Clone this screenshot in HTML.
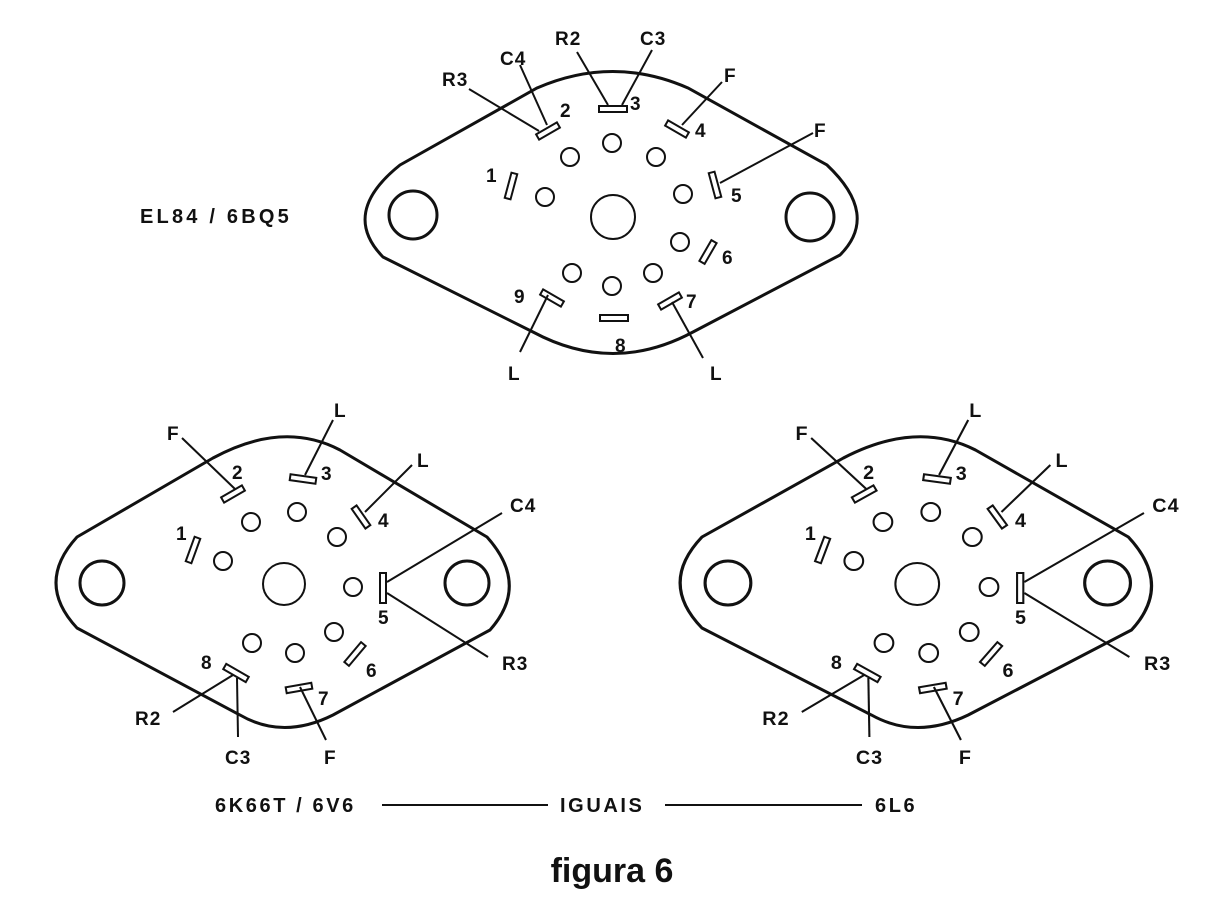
<!DOCTYPE html>
<html><head><style>
html,body{margin:0;padding:0;background:#fff;}
svg{display:block;}
text{font-family:"Liberation Sans",sans-serif;font-weight:bold;fill:#111;}
</style></head><body>
<svg width="1222" height="900" viewBox="0 0 1222 900" xmlns="http://www.w3.org/2000/svg">
<defs>
<g id="sock" fill="none" stroke="#111">
  <path d="M77,537 L213,458 Q283,420 340,450 L487,537 Q530,585 490,630 L333,715 Q283,740 240,715 L77,628 Q35,583 77,537 Z" stroke-width="3"/>
  <circle cx="102" cy="583" r="22" stroke-width="3"/>
  <circle cx="467" cy="583" r="22" stroke-width="3"/>
  <circle cx="284" cy="584" r="21" stroke-width="2"/>
  <g stroke-width="2">
  <circle cx="251" cy="522" r="9"/><circle cx="297" cy="512" r="9"/><circle cx="337" cy="537" r="9"/>
  <circle cx="223" cy="561" r="9"/><circle cx="353" cy="587" r="9"/><circle cx="334" cy="632" r="9"/>
  <circle cx="252" cy="643" r="9"/><circle cx="295" cy="653" r="9"/>
  <rect x="-12" y="-3" width="24" height="6" transform="translate(233,494) rotate(-30)"/>
  <rect x="-13" y="-3" width="26" height="6" transform="translate(303,479) rotate(8)"/>
  <rect x="-12" y="-3" width="24" height="6" transform="translate(361,517) rotate(55)"/>
  <rect x="-13" y="-3" width="26" height="6" transform="translate(193,550) rotate(-70)"/>
  <rect x="-15" y="-3" width="30" height="6" transform="translate(383,588) rotate(90)"/>
  <rect x="-13" y="-3" width="26" height="6" transform="translate(355,654) rotate(-50)"/>
  <rect x="-13" y="-3" width="26" height="6" transform="translate(236,673) rotate(30)"/>
  <rect x="-13" y="-3" width="26" height="6" transform="translate(299,688) rotate(-10)"/>
  <line x1="182" y1="438" x2="235" y2="489"/>
  <line x1="333" y1="420" x2="305" y2="475"/>
  <line x1="412" y1="465" x2="365" y2="512"/>
  <line x1="502" y1="513" x2="387" y2="582"/>
  <line x1="488" y1="657" x2="387" y2="593"/>
  <line x1="173" y1="712" x2="233" y2="675"/>
  <line x1="238" y1="737" x2="237" y2="678"/>
  <line x1="326" y1="740" x2="300" y2="687"/>
  </g>
</g>
<g id="lab" font-size="19">
  <text x="232" y="479">2</text><text x="321" y="480">3</text><text x="378" y="527">4</text>
  <text x="176" y="540">1</text><text x="378" y="624">5</text><text x="366" y="677">6</text>
  <text x="318" y="705">7</text><text x="201" y="669">8</text>
  <text x="167" y="440">F</text><text x="334" y="417">L</text><text x="417" y="467">L</text>
  <text x="510" y="512" letter-spacing="1">C4</text><text x="502" y="670" letter-spacing="1">R3</text><text x="135" y="725" letter-spacing="1">R2</text>
  <text x="225" y="764" letter-spacing="1">C3</text><text x="324" y="764">F</text>
</g>
</defs>

<!-- top socket -->
<g fill="none" stroke="#111">
  <path d="M400,165 L537,88 Q613,55 688,88 L827,165 Q880,215 840,255 L693,332 Q613,375 533,332 L383,257 Q340,213 400,165 Z" stroke-width="3"/>
  <circle cx="413" cy="215" r="24" stroke-width="3"/>
  <circle cx="810" cy="217" r="24" stroke-width="3"/>
  <circle cx="613" cy="217" r="22" stroke-width="2"/>
  <g stroke-width="2">
  <circle cx="612" cy="143" r="9"/><circle cx="570" cy="157" r="9"/><circle cx="656" cy="157" r="9"/>
  <circle cx="545" cy="197" r="9"/><circle cx="683" cy="194" r="9"/><circle cx="680" cy="242" r="9"/>
  <circle cx="572" cy="273" r="9"/><circle cx="653" cy="273" r="9"/><circle cx="612" cy="286" r="9"/>
  <rect x="-12" y="-3" width="24" height="6" transform="translate(548,131) rotate(-30)"/>
  <rect x="-14" y="-3" width="28" height="6" transform="translate(613,109)"/>
  <rect x="-12" y="-3" width="24" height="6" transform="translate(677,129) rotate(30)"/>
  <rect x="-13" y="-3" width="26" height="6" transform="translate(715,185) rotate(75)"/>
  <rect x="-13" y="-3" width="26" height="6" transform="translate(511,186) rotate(-75)"/>
  <rect x="-12" y="-3" width="24" height="6" transform="translate(708,252) rotate(-60)"/>
  <rect x="-12" y="-3" width="24" height="6" transform="translate(670,301) rotate(-30)"/>
  <rect x="-14" y="-3" width="28" height="6" transform="translate(614,318)"/>
  <rect x="-12" y="-3" width="24" height="6" transform="translate(552,298) rotate(30)"/>
  <line x1="469" y1="89" x2="539" y2="131"/>
  <line x1="520" y1="65" x2="547" y2="125"/>
  <line x1="577" y1="52" x2="608" y2="105"/>
  <line x1="652" y1="50" x2="622" y2="105"/>
  <line x1="722" y1="82" x2="682" y2="125"/>
  <line x1="813" y1="133" x2="720" y2="183"/>
  <line x1="520" y1="352" x2="548" y2="295"/>
  <line x1="703" y1="358" x2="672" y2="302"/>
  </g>
</g>
<g font-size="19">
  <text x="560" y="117">2</text><text x="630" y="110">3</text><text x="695" y="137">4</text>
  <text x="486" y="182">1</text><text x="731" y="202">5</text><text x="722" y="264">6</text>
  <text x="686" y="308">7</text><text x="615" y="352">8</text><text x="514" y="303">9</text>
  <text x="442" y="86" letter-spacing="1">R3</text><text x="500" y="65" letter-spacing="1">C4</text><text x="555" y="45" letter-spacing="1">R2</text>
  <text x="640" y="45" letter-spacing="1">C3</text><text x="724" y="82">F</text><text x="814" y="137">F</text>
  <text x="508" y="380">L</text><text x="710" y="380">L</text>
  <text x="140" y="223" font-size="20" letter-spacing="3.2">EL84 / 6BQ5</text>
</g>

<use href="#sock"/>
<use href="#lab"/>
<g transform="translate(677,0) scale(1.04,1) translate(-53,0)">
  <use href="#sock"/>
  <use href="#lab"/>
</g>

<g font-size="20">
  <text x="215" y="812" letter-spacing="2.6">6K66T / 6V6</text>
  <text x="560" y="812" letter-spacing="2.6">IGUAIS</text>
  <text x="875" y="812" letter-spacing="2.6">6L6</text>
</g>
<g stroke="#111" stroke-width="2">
  <line x1="382" y1="805" x2="548" y2="805"/>
  <line x1="665" y1="805" x2="862" y2="805"/>
</g>
<text x="612" y="882" font-size="34" text-anchor="middle">figura 6</text>
</svg>
</body></html>
